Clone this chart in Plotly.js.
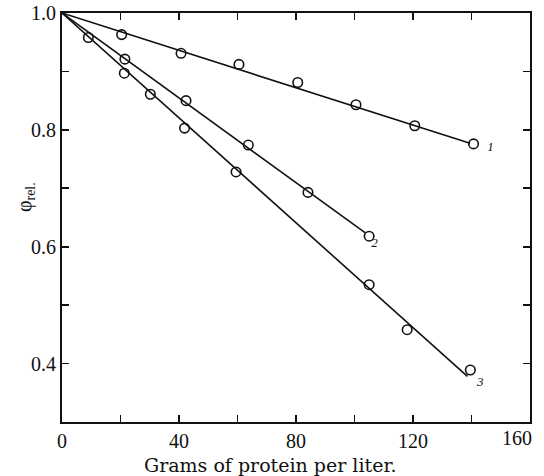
<!DOCTYPE html>
<html>
<head>
<meta charset="utf-8">
<script src="https://cdn.plot.ly/plotly-3.0.1.min.js"></script>
<style>html,body{margin:0;padding:0;background:#fff;}#chart{width:544px;height:476px;}</style>
</head>
<body>
<div id="chart"></div>
<script>
// Measured points (grams of protein per liter, relative phi)
const x1 = [20.4, 40.7, 60.5, 80.6, 100.5, 120.6, 140.7];
const y1 = [0.963, 0.931, 0.912, 0.881, 0.843, 0.807, 0.776];
const x2 = [21.5, 42.4, 63.7, 84.1, 105.0];
const y2 = [0.921, 0.850, 0.774, 0.693, 0.618];
const x3 = [9.0, 21.3, 30.2, 41.9, 59.5, 105.0, 118.0, 139.6];
const y3 = [0.958, 0.897, 0.861, 0.803, 0.728, 0.535, 0.458, 0.389];
// Fitted lines (endpoints)
const fx1 = [0, 139.5], fy1 = [1.0, 0.777];
const fx2 = [0, 103.6], fy2 = [1.0, 0.624];
const fx3 = [0, 138.6], fy3 = [1.0, 0.378];
// Curve labels
const labelText = ['1', '2', '3'];
const labelX = [146.5, 106.8, 143.0];
const labelY = [0.770, 0.605, 0.368];
// Tick labels
const xTickVals = [0, 20, 40, 60, 80, 100, 120, 140, 160];
const xTickText = ['0', '', '40', '', '80', '', '120', '', ''];
const xLastTick = 160, xLastTickText = '160';
const yTickVals = [0.4, 0.5, 0.6, 0.7, 0.8, 0.9, 1.0];
const yTickText = ['0.4', '', '0.6', '', '0.8', '', '1.0'];
const xTitle = 'Grams of protein per liter.';
const yTitle = 'φ<sub>rel.</sub>';

const serif = 'Liberation Serif, DejaVu Serif, serif';
const wideSerif = 'DejaVu Serif, Liberation Serif, serif';
const lineStyle = {color: '#111', width: 1.6};
const markerStyle = {symbol: 'circle-open', size: 9.5, color: '#111', line: {width: 1.6, color: '#111'}};

const traces = [
  {x: fx1, y: fy1, mode: 'lines', line: lineStyle, hoverinfo: 'skip'},
  {x: fx2, y: fy2, mode: 'lines', line: lineStyle, hoverinfo: 'skip'},
  {x: fx3, y: fy3, mode: 'lines', line: lineStyle, hoverinfo: 'skip'},
  {x: x1, y: y1, mode: 'markers', marker: markerStyle},
  {x: x2, y: y2, mode: 'markers', marker: markerStyle},
  {x: x3, y: y3, mode: 'markers', marker: markerStyle},
  {x: labelX, y: labelY, mode: 'text', text: labelText, textposition: 'middle center',
   textfont: {family: serif, size: 13, color: '#111', style: 'italic'}, hoverinfo: 'skip'}
];

const tickFont = {family: serif, size: 20, color: '#111'};
const axisCommon = {
  showgrid: false, zeroline: false, showline: true, linecolor: '#111', linewidth: 2,
  mirror: 'ticks', ticks: 'inside', ticklen: 7, tickwidth: 1.8, tickcolor: '#111',
  tickfont: tickFont, tickmode: 'array'
};

const layout = {
  width: 544, height: 476,
  margin: {l: 62, r: 14, t: 13, b: 54},
  paper_bgcolor: '#fff', plot_bgcolor: '#fff',
  showlegend: false,
  xaxis: Object.assign({}, axisCommon, {
    range: [0, 160], tickvals: xTickVals, ticktext: xTickText
  }),
  yaxis: Object.assign({}, axisCommon, {
    range: [0.3, 1.0], tickvals: yTickVals, ticktext: yTickText
  }),
  annotations: [
    {text: xLastTickText, xref: 'x', yref: 'paper', x: xLastTick, y: 0, xanchor: 'right', yanchor: 'top',
     xshift: 4, yshift: -3, showarrow: false, font: tickFont},
    {text: xTitle, xref: 'paper', yref: 'paper', x: 0.444, y: -0.104, xanchor: 'center', yanchor: 'middle',
     showarrow: false, font: {family: wideSerif, size: 19, color: '#111'}},
    {text: yTitle, xref: 'paper', yref: 'paper', x: -0.079, y: 0.55, xanchor: 'center', yanchor: 'middle',
     textangle: -90, showarrow: false, font: {family: serif, size: 20, color: '#111'}}
  ]
};

Plotly.newPlot('chart', traces, layout, {staticPlot: true});
</script>
</body>
</html>
